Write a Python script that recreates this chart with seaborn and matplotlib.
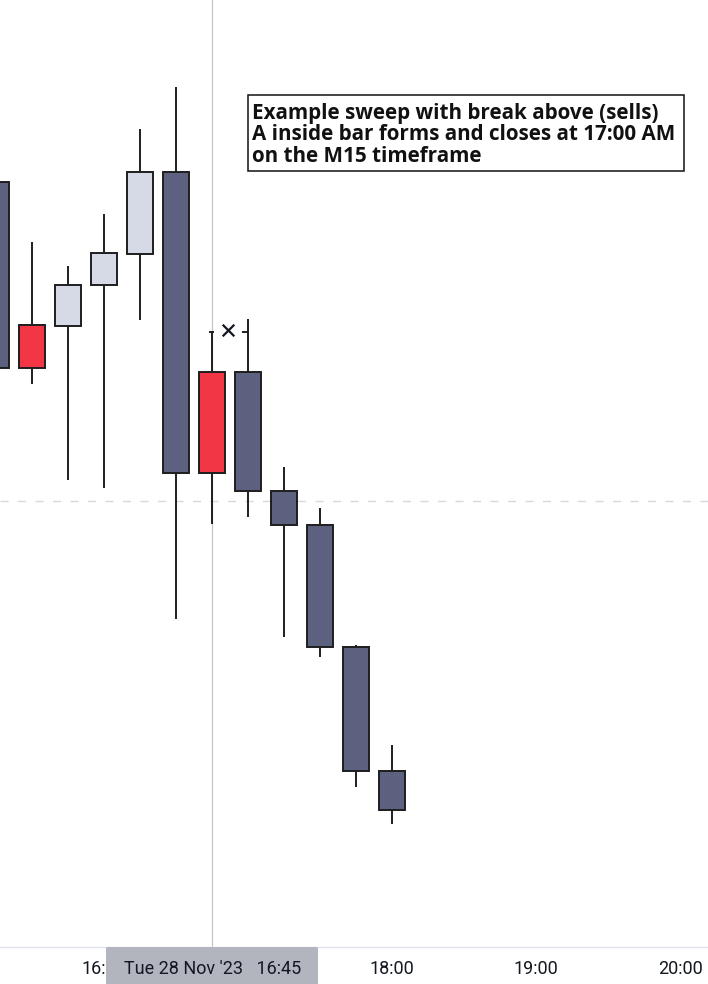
import numpy as np
import pandas as pd
import matplotlib
matplotlib.use("Agg")
import matplotlib.pyplot as plt
import matplotlib.transforms as mtransforms
from matplotlib.patches import Rectangle, FancyBboxPatch
import seaborn as sns

# ---------------- data (M15 candles, 15:15 -> 18:00) ----------------
times = ["15:15", "15:30", "15:45", "16:00", "16:15", "16:30",
         "16:45", "17:00", "17:15", "17:30", "17:45", "18:00"]
opens = [1.26818, 1.26632, 1.26674, 1.26715, 1.26746, 1.26828,
         1.26527, 1.26628, 1.26509, 1.26475, 1.26353, 1.26229]
closes = [1.26632, 1.26675, 1.26715, 1.26747, 1.26828, 1.26527,
          1.26628, 1.26509, 1.26475, 1.26353, 1.26229, 1.26190]
highs = [1.26840, 1.26758, 1.26734, 1.26786, 1.26871, 1.26913,
         1.26668, 1.26681, 1.26533, 1.26492, 1.26355, 1.26255]
lows = [1.26600, 1.26616, 1.26520, 1.26512, 1.26680, 1.26381,
        1.26476, 1.26483, 1.26363, 1.26343, 1.26213, 1.26176]
inside_bar = [False, True, False, False, False, False,
              True, False, False, False, False, False]

tick_positions = [3, 11, 15, 19]
tick_labels = ["16:00", "18:00", "19:00", "20:00"]
cursor_index = 6
cursor_label = "Tue 28 Nov '23   16:45"
level_price = 1.26499
marker_x = [6.44]
marker_y = [1.26670]
tick_marks_y = 1.26668
note_lines = ["Example sweep with break above (sells)",
              "A inside bar forms and closes at 17:00 AM",
              "on the M15 timeframe"]

# ---------------- styling ----------------
sns.set_theme(style="white")
plt.rcParams["font.family"] = ["DejaVu Sans"]

BULL = "#d5dae6"
BEAR = "#5d6180"
INSIDE = "#f23645"
EDGE = "#1e1e1e"

df = pd.DataFrame({"time": times, "open": opens, "close": closes,
                   "high": highs, "low": lows, "inside": inside_bar})
df["x"] = np.arange(len(df))
df["color"] = np.where(df["inside"], INSIDE,
                       np.where(df["close"] >= df["open"], BULL, BEAR))

W, H = 708, 984
fig = plt.figure(figsize=(W / 100, H / 100), dpi=100)
ax = fig.add_axes([0, 37 / H, 1, 947 / H])
ax.set_facecolor("white")

ax.set_xlim(0.117, 19.773)
ax.set_ylim(1.26053, 1.27000)

# crosshair vertical + dashed level
ax.axvline(cursor_index, color="#c3c6ce", lw=0.9, zorder=1)
ax.axhline(level_price, color="#d6d8de", lw=1.0, ls=(0, (5.8, 6.8)), zorder=1)

# wicks
ax.vlines(df["x"], df["low"], df["high"], color=EDGE, lw=1.4, zorder=2)
# bodies
ax.bar(df["x"], (df["close"] - df["open"]).abs(),
       bottom=np.minimum(df["open"], df["close"]),
       width=0.71, color=df["color"], edgecolor=EDGE, linewidth=1.4, zorder=3)

# small ticks on wicks
ax.hlines([tick_marks_y, tick_marks_y], [5.93, 6.83], [6.07, 7.0],
          color=EDGE, lw=1.4, zorder=2)

# x marker
sns.scatterplot(x=marker_x, y=marker_y, marker="x", s=70, color="#131722",
                linewidth=1.6, ax=ax, zorder=5, legend=False)

# axes / ticks
for side in ["top", "left", "right"]:
    ax.spines[side].set_visible(False)
ax.spines["bottom"].set_color("#e0e3eb")
ax.spines["bottom"].set_linewidth(1.0)
ax.set_yticks([])
ax.set_xticks(tick_positions)
ax.set_xticklabels(tick_labels, fontsize=13, color="#131722", family="Roboto")
ax.tick_params(axis="x", length=0, pad=9.5)
ax.set_xlabel("")
ax.set_ylabel("")

# highlighted cursor label on the time axis
blend = mtransforms.blended_transform_factory(ax.transData, ax.transAxes)
ax.add_patch(FancyBboxPatch((3.06, -40 / 947), 8.946 - 3.06, 40 / 947,
                            boxstyle="round,pad=0,rounding_size=0.08",
                            transform=blend, facecolor="#b2b5be",
                            edgecolor="none", clip_on=False, zorder=10,
                            mutation_aspect=0.01))
ax.text(6.03, -22.5 / 947, cursor_label, transform=blend, ha="center",
        va="center", fontsize=13, color="#131722", family="Roboto",
        zorder=11, clip_on=False)

# annotation box
ax.add_patch(Rectangle((248 / W, 1 - 171 / 947), 436 / W, 76 / 947,
                       transform=ax.transAxes, facecolor="white",
                       edgecolor="#111111", lw=1.1, zorder=8))
for k, line in enumerate(note_lines):
    ax.text(252 / W, 1 - (118.5 + 21.7 * k) / 947, line,
            transform=ax.transAxes, ha="left", va="baseline",
            fontsize=14.9, fontweight="bold", family="Open Sans",
            color="#111111", zorder=9)

fig.savefig("out.png", dpi=100)
